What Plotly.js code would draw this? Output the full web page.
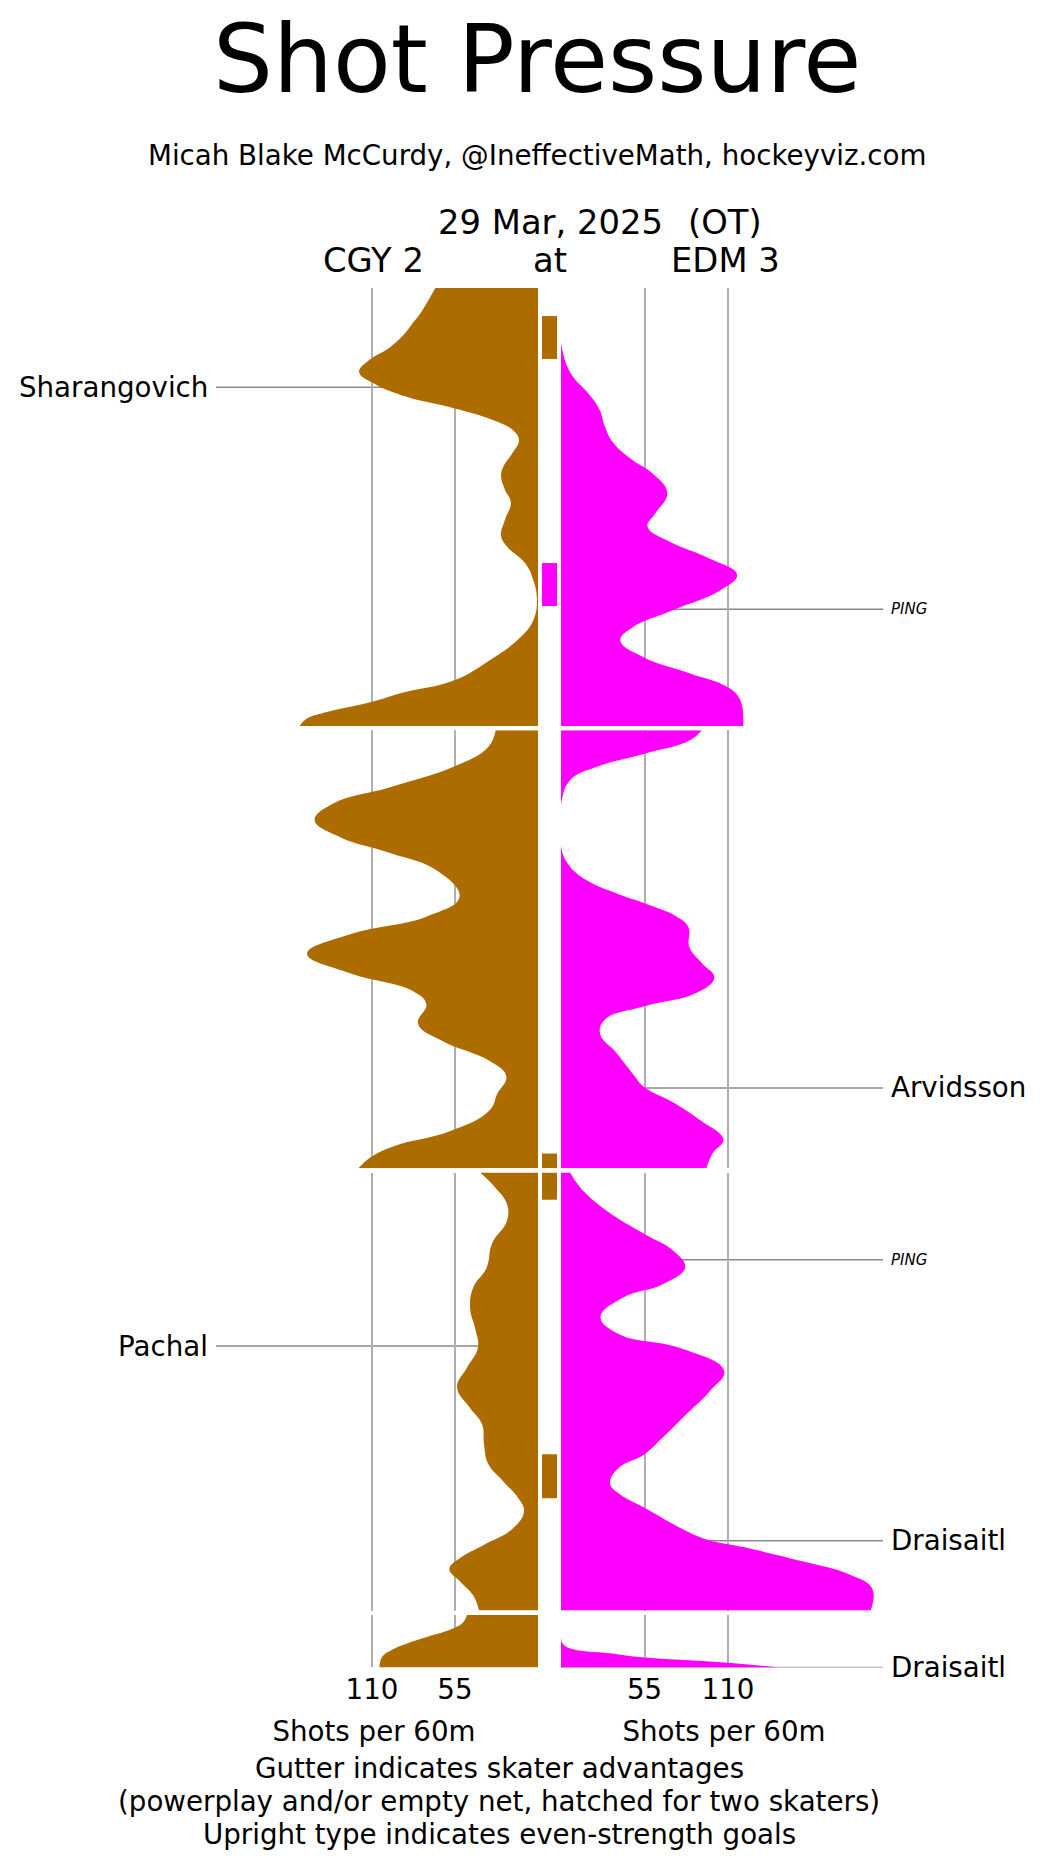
<!DOCTYPE html>
<html><head><meta charset="utf-8">
<script src="https://cdn.plot.ly/plotly-3.0.1.min.js"></script>
<style>body{margin:0;background:#fff}</style>
</head><body><div id="chart" style="width:1045px;height:1866px"></div>
<script>
// ---------- data (minutes into period, shots per 60m) ----------
const teams = ['CGY', 'EDM'];
const periodNames = ['1', '2', '3', 'OT'];
const periodLen = [20, 20, 20, 2.4];

const p1CgyT = [0, 1.16, 1.6, 2.06, 2.7, 3.3, 3.83, 4.35, 4.97, 5.5, 6.03, 6.5, 6.95, 7.55, 8.16, 8.6, 9.2, 9.8, 10.6, 11.3, 11.8, 12.56, 13.3, 14.25, 15.2, 16.1, 17.0, 17.9, 18.5, 18.9, 19.4, 19.7, 20];
const p1CgyV = [68, 78, 83, 88, 98, 112, 118.5, 109, 87, 55, 30, 16.5, 12.6, 17, 23, 24.5, 22, 18, 22, 24.5, 20.6, 8.6, 3.3, 0.7, 3.3, 14, 32, 55, 91, 110.5, 142, 154, 158];
const p1EdmT = [0, 1.9, 2.7, 3.9, 4.8, 5.57, 6.35, 7.08, 7.85, 8.45, 9.36, 10.3, 10.9, 11.6, 12.3, 13.1, 13.8, 14.7, 15.5, 16.1, 16.85, 17.6, 18.2, 18.8, 20];
const p1EdmV = [0, 0, 0.5, 6.5, 17.8, 25.5, 29, 34.5, 47, 60, 70, 62, 57, 72, 96, 116, 105, 74, 47, 39, 54, 85, 109, 118, 120];

const p2CgyT = [0, 0.76, 1.67, 2.6, 3.35, 4.1, 4.88, 5.6, 6.4, 7.6, 8.5, 9.3, 10.2, 11.1, 11.9, 12.5, 13.4, 14.2, 15.1, 15.8, 16.6, 17.35, 18.3, 19.0, 19.5, 20];
const p2CgyV = [28, 33, 56, 98, 136, 148, 131, 98, 67, 52, 73.5, 124, 153, 124, 83, 74, 79.5, 63, 32, 21, 27, 32, 58, 96, 111, 119];
const p2EdmT = [0, 0.46, 1.07, 1.67, 2.28, 3.2, 4.1, 5.3, 6.1, 6.85, 7.45, 7.9, 8.5, 9.0, 9.9, 10.65, 11.3, 12.0, 12.6, 13.2, 13.85, 14.75, 15.7, 16.3, 17.0, 17.8, 18.7, 19.3, 20];
const p2EdmV = [92.7, 85, 55, 23.5, 6, 0.5, 0, 0, 4.6, 17, 36.7, 55, 76, 84, 84.5, 93, 101, 89, 55, 29, 25.7, 36.7, 47.5, 55, 74, 91.5, 107, 100, 95.7];

const p3CgyT = [0, 0.67, 1.43, 2.2, 3.25, 4.33, 5.26, 6.2, 7.1, 8.0, 8.9, 9.8, 10.75, 11.5, 12.4, 13.3, 14.1, 14.87, 15.47, 16.24, 17.0, 17.6, 18.1, 18.67, 19.3, 20];
const p3CgyV = [38.4, 28.5, 20.6, 20.6, 30.5, 34, 43, 45, 41.7, 39.8, 47, 53.6, 45, 37, 35.8, 33, 23, 13, 9.3, 16.5, 36, 51.6, 58.7, 51.6, 43, 39];
const p3EdmT = [0, 0.67, 1.74, 2.8, 3.57, 4.33, 5.1, 5.7, 6.6, 7.4, 8.0, 9.06, 9.98, 11.0, 12.1, 12.86, 13.5, 14.2, 14.7, 15.3, 16.2, 16.75, 17.1, 17.75, 18.35, 19.0, 20];
const p3EdmV = [6, 12.5, 30, 55, 74, 81.7, 67, 41, 26, 39, 78, 107.5, 98, 83, 67, 55, 37.7, 32.3, 39, 55, 78, 96, 120, 159, 190, 205, 204];

const otCgyT = [0, 0.35, 0.64, 0.96, 1.26, 1.57, 1.87, 2.18, 2.4];
const otCgyV = [47, 49.6, 57, 71.6, 85, 96, 102.7, 104.7, 105];
const otEdmT = [0, 1.04, 1.34, 1.57, 1.75, 1.95, 2.18, 2.4];
const otEdmV = [0, 0, 1.5, 8, 32, 55, 110, 143];

// skater advantages (gutter)
const advTeam   = ['CGY', 'EDM', 'CGY', 'CGY', 'CGY'];
const advPeriod = [1, 1, 2, 3, 3];
const advStart  = [1.28, 12.56, 19.32, 0, 12.86];
const advEnd    = [3.24, 14.52, 20, 1.24, 14.87];

// goals
const goalTeam   = ['CGY', 'EDM', 'EDM', 'EDM', 'CGY', 'EDM', 'EDM'];
const goalPeriod = [1, 1, 2, 3, 3, 3, 4];
const goalTime   = [4.53, 14.67, 16.33, 3.98, 7.92, 16.81, 2.4];
const goalName   = ['Sharangovich', 'PING', 'Arvidsson', 'PING', 'Pachal', 'Draisaitl', 'Draisaitl'];
const goalEven   = [true, false, true, false, true, true, true];

const xTicks = [55, 110];
const xTickText = ['55', '110'];

// ---------- layout ----------
const W = 1045, H = 1866;
const BROWN = '#ad6c00', MAG = '#ff00ff';
const FONT = 'DejaVu Sans';
const FS = 27.7;
const leftPx = [210, 538], rightPx = [561, 887];
const top0 = 288, pxMin = 21.9, gapPx = 4.3;

const series = [
  [[p1CgyT, p1CgyV], [p1EdmT, p1EdmV]],
  [[p2CgyT, p2CgyV], [p2EdmT, p2EdmV]],
  [[p3CgyT, p3CgyV], [p3EdmT, p3EdmV]],
  [[otCgyT, otCgyV], [otEdmT, otEdmV]]
];

function xAxis(dom, range) {
  return {
    domain: [dom[0] / W, dom[1] / W], range: range, anchor: 'y4',
    tickvals: xTicks, ticktext: xTickText, showgrid: true, gridcolor: '#b0b0b0', gridwidth: 2,
    zeroline: false, showline: false, ticks: '', tickfont: {size: FS}, ticklabelstandoff: 3,
    title: {text: 'Shots per 60m', font: {size: FS}, standoff: 16}
  };
}

const layout = {
  width: W, height: H,
  margin: {l: 0, r: 0, t: 0, b: 0},
  paper_bgcolor: '#fff', plot_bgcolor: 'rgba(0,0,0,0)',
  showlegend: false,
  font: {family: FONT, color: '#000', size: FS},
  xaxis: xAxis(leftPx, [217.3, 0]),
  xaxis2: xAxis(rightPx, [0, 214.7]),
  shapes: [], annotations: []
};

const yNames = [];
let cur = top0;
periodLen.forEach((len, i) => {
  const h = len * pxMin;
  const key = i === 0 ? 'yaxis' : 'yaxis' + (i + 1);
  yNames.push(i === 0 ? 'y' : 'y' + (i + 1));
  layout[key] = {
    domain: [1 - (cur + h) / H, 1 - cur / H], range: [len, 0], anchor: 'x',
    showgrid: false, zeroline: false, showticklabels: false, ticks: '', showline: false
  };
  cur += h + gapPx;
});

const traces = [];
series.forEach((per, i) => {
  per.forEach((s, k) => {
    traces.push({
      type: 'scatter', mode: 'lines', x: s[1], y: s[0],
      xaxis: k === 0 ? 'x' : 'x2', yaxis: yNames[i],
      fill: 'tozerox', fillcolor: k === 0 ? BROWN : MAG,
      line: {width: 0, shape: 'spline', smoothing: 1.2, color: k === 0 ? BROWN : MAG},
      hoverinfo: 'skip', name: teams[k] + ' P' + periodNames[i]
    });
  });
});

advTeam.forEach((t, i) => {
  layout.shapes.push({
    type: 'rect', xref: 'paper', yref: yNames[advPeriod[i] - 1],
    x0: 542 / W, x1: 557 / W, y0: advStart[i], y1: advEnd[i],
    fillcolor: t === 'CGY' ? BROWN : MAG, line: {width: 0}, layer: 'above'
  });
});

goalTeam.forEach((t, i) => {
  const yr = yNames[goalPeriod[i] - 1];
  const left = t === 'CGY';
  layout.shapes.push({
    type: 'line', xref: 'paper', yref: yr, layer: 'below',
    x0: left ? 216 / W : rightPx[0] / W, x1: left ? leftPx[1] / W : 883 / W,
    y0: goalTime[i], y1: goalTime[i], line: {color: '#8a8a8a', width: 1.5}
  });
  layout.annotations.push({
    xref: 'paper', yref: yr, x: left ? 210 / W : 889 / W, y: goalTime[i],
    xanchor: left ? 'right' : 'left', yanchor: 'middle', showarrow: false,
    text: goalEven[i] ? goalName[i] : '<i>' + goalName[i] + '</i>',
    font: {size: goalEven[i] ? FS : 15}
  });
});

function txt(text, xpx, ypx, size) {
  layout.annotations.push({xref: 'paper', yref: 'paper', x: xpx / W, y: 1 - ypx / H,
    xanchor: 'center', yanchor: 'middle', showarrow: false, text: text, font: {size: size}});
}
txt('Shot Pressure', 537, 59, 94.5);
txt('Micah Blake McCurdy, @IneffectiveMath, hockeyviz.com', 537, 155, FS);
txt('29 Mar, 2025', 550, 222, 33.8);
txt('(OT)', 725, 222, 33.8);
txt('CGY 2', 373, 260, 33.8);
txt('at', 550, 260, 33.8);
txt('EDM 3', 725, 260, 33.8);
txt('Gutter indicates skater advantages', 499, 1768, FS);
txt('(powerplay and/or empty net, hatched for two skaters)', 499, 1801, FS);
txt('Upright type indicates even-strength goals', 499, 1834, FS);

Plotly.newPlot('chart', traces, layout, {staticPlot: true});
</script></body></html>
